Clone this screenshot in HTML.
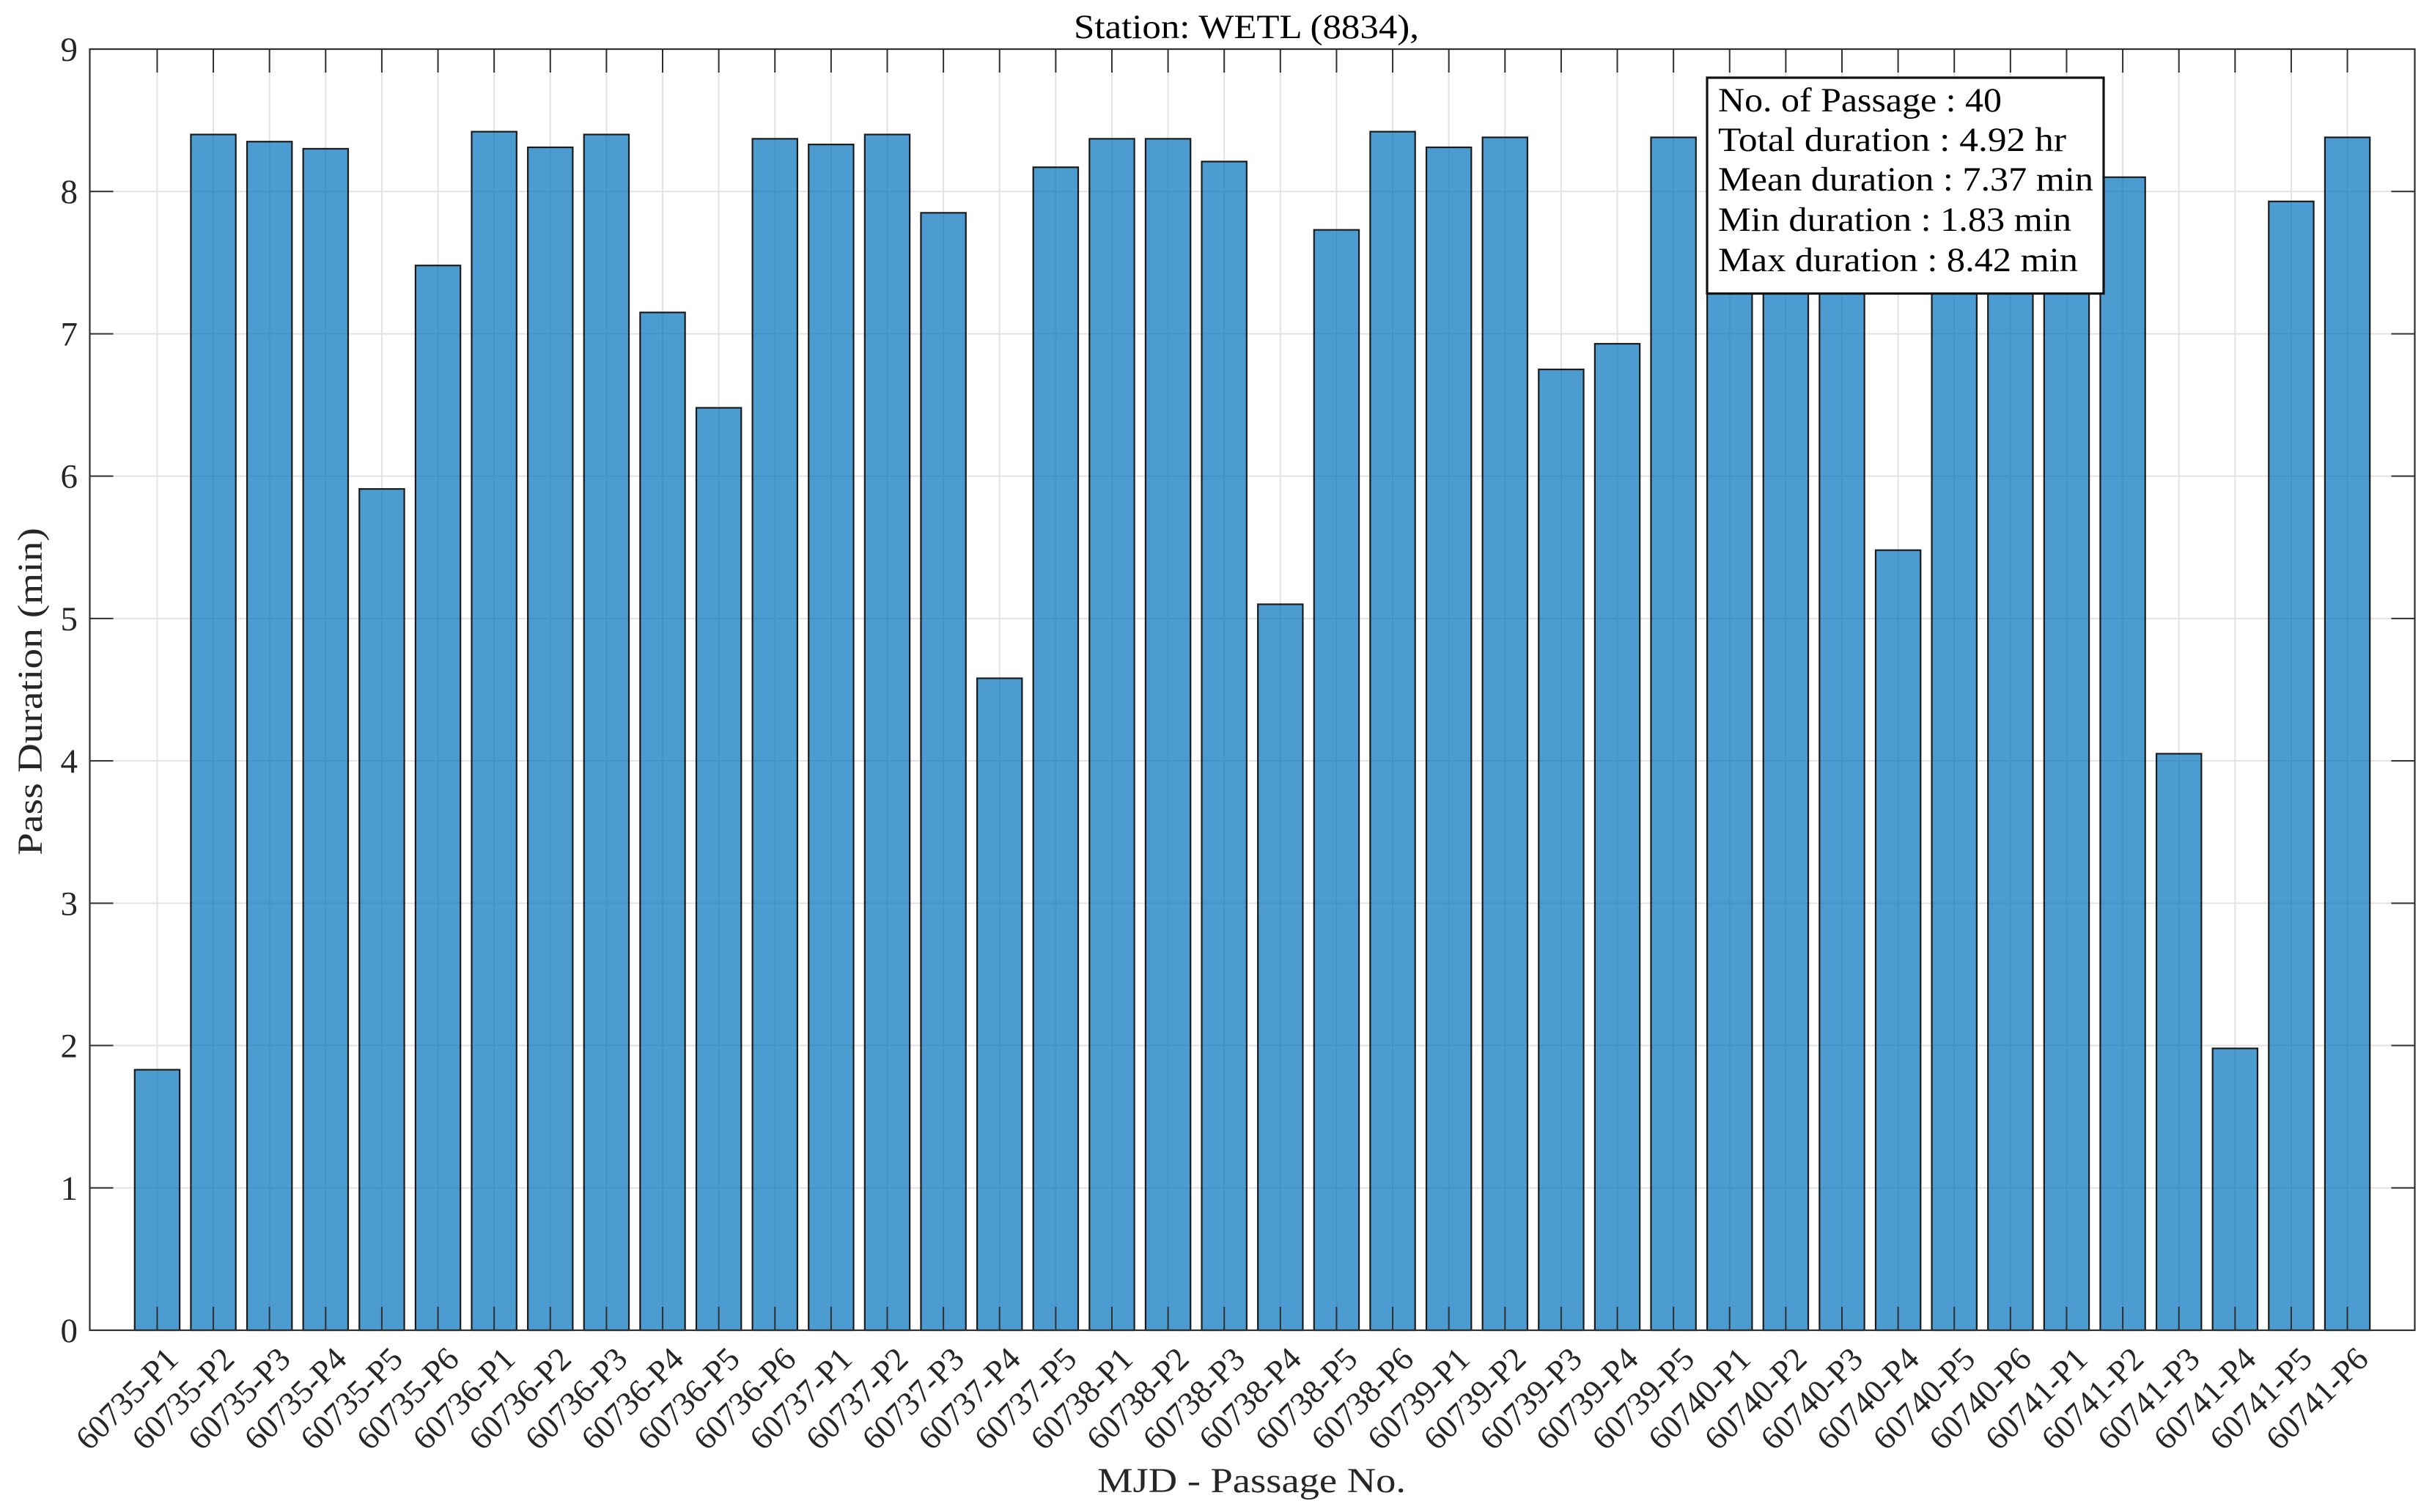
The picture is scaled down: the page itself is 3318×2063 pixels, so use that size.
<!DOCTYPE html>
<html lang="en">
<head>
<meta charset="utf-8">
<title>Station: WETL (8834) pass durations</title>
<style>
html,body{margin:0;padding:0;background:#fff;}
svg{display:block;}
text{font-family:"Liberation Serif",serif;}
</style>
</head>
<body>
<svg id="chart" xmlns="http://www.w3.org/2000/svg" width="3318" height="2063" viewBox="0 0 3318 2063">
  <rect x="0" y="0" width="3318" height="2063" fill="#ffffff"/>
  <g id="grid"></g>
  <g id="bars"></g>
  <g id="ticks"></g>
  <rect x="122.5" y="67" width="3172" height="1748" fill="none" stroke="#303030" stroke-width="2.2"/>
  <g id="ytl"></g>
  <g id="xtl"></g>

  <text x="1465" y="52" font-size="47" fill="#000000" textLength="471" lengthAdjust="spacingAndGlyphs">Station: WETL (8834),</text>
  <text x="1497" y="2036" font-size="48" fill="#262626" textLength="421" lengthAdjust="spacingAndGlyphs">MJD - Passage No.</text>
  <text transform="translate(57 1167) rotate(-90)" x="0" y="0" font-size="48" fill="#262626" textLength="447" lengthAdjust="spacingAndGlyphs">Pass Duration (min)</text>

  <g>
    <rect x="2329" y="106" width="541" height="294.5" fill="#ffffff" stroke="#111111" stroke-width="3.2"/>
    <text x="2344" y="152" font-size="47" fill="#000000" textLength="387" lengthAdjust="spacingAndGlyphs">No. of Passage : 40</text>
    <text x="2344" y="206" font-size="47" fill="#000000" textLength="475" lengthAdjust="spacingAndGlyphs">Total duration : 4.92 hr</text>
    <text x="2344" y="260" font-size="47" fill="#000000" textLength="512" lengthAdjust="spacingAndGlyphs">Mean duration : 7.37 min</text>
    <text x="2344" y="315" font-size="47" fill="#000000" textLength="482" lengthAdjust="spacingAndGlyphs">Min duration : 1.83 min</text>
    <text x="2344" y="370" font-size="47" fill="#000000" textLength="491" lengthAdjust="spacingAndGlyphs">Max duration : 8.42 min</text>
  </g>
</svg>
<script>
const categories = [
  "60735-P1","60735-P2","60735-P3","60735-P4","60735-P5","60735-P6",
  "60736-P1","60736-P2","60736-P3","60736-P4","60736-P5","60736-P6",
  "60737-P1","60737-P2","60737-P3","60737-P4","60737-P5",
  "60738-P1","60738-P2","60738-P3","60738-P4","60738-P5","60738-P6",
  "60739-P1","60739-P2","60739-P3","60739-P4","60739-P5",
  "60740-P1","60740-P2","60740-P3","60740-P4","60740-P5","60740-P6",
  "60741-P1","60741-P2","60741-P3","60741-P4","60741-P5","60741-P6"
];
const durations = [
  1.83,8.40,8.35,8.30,5.91,7.48,
  8.42,8.31,8.40,7.15,6.48,8.37,
  8.33,8.40,7.85,4.58,8.17,
  8.37,8.37,8.21,5.10,7.73,8.42,
  8.31,8.38,6.75,6.93,8.38,
  8.30,8.30,8.30,5.48,8.10,8.20,
  8.20,8.10,4.05,1.98,7.93,8.38
];
const yTickValues = [0,1,2,3,4,5,6,7,8,9];

const NS = "http://www.w3.org/2000/svg";
const plot = {left:122.5, right:3294.5, top:67, bottom:1815};
const xDomain = [-0.2, 41.2];
const yDomain = [0, 9];
const barFraction = 0.8;
const tickLen = 32;

function xScale(v){
  return plot.left + (v - xDomain[0]) / (xDomain[1] - xDomain[0]) * (plot.right - plot.left);
}
function yScale(v){
  return plot.bottom - (v - yDomain[0]) / (yDomain[1] - yDomain[0]) * (plot.bottom - plot.top);
}
function make(tag, attrs, parent){
  const el = document.createElementNS(NS, tag);
  for (const k in attrs) el.setAttribute(k, attrs[k]);
  parent.appendChild(el);
  return el;
}

const gridG = document.getElementById("grid");
const barsG = document.getElementById("bars");
const ticksG = document.getElementById("ticks");
const ytlG = document.getElementById("ytl");
const xtlG = document.getElementById("xtl");

yTickValues.forEach(function(v){
  const y = yScale(v);
  if (v > yDomain[0] && v < yDomain[1]) {
    const g = make("line", {x1:plot.left, x2:plot.right, y1:y, y2:y, stroke:"#e2e2e2", "stroke-width":2}, gridG);
    
    
    const t1 = make("line", {x1:plot.left, x2:plot.left + tickLen, y1:y, y2:y, stroke:"#303030", "stroke-width":2}, ticksG);
    
    
    const t2 = make("line", {x1:plot.right - tickLen, x2:plot.right, y1:y, y2:y, stroke:"#303030", "stroke-width":2}, ticksG);
    
    
  }
  const lab = make("text", {x:106, y:y + 16, "text-anchor":"end", "font-size":47, fill:"#262626"}, ytlG);
  
  
  lab.textContent = String(v);
});

categories.forEach(function(name, i){
  const pos = i + 1;
  const x = xScale(pos);
  const g = make("line", {x1:x, x2:x, y1:plot.top, y2:plot.bottom, stroke:"#e2e2e2", "stroke-width":2}, gridG);
  
  

  const x0 = xScale(pos - barFraction / 2);
  const x1 = xScale(pos + barFraction / 2);
  const yTop = yScale(durations[i]);
  const bar = make("rect", {x:x0, y:yTop, width:x1 - x0, height:yScale(0) - yTop,
    fill:"#0072BD", "fill-opacity":0.7, stroke:"#1c1c1c", "stroke-width":2.2}, barsG);
  
  

  const t1 = make("line", {x1:x, x2:x, y1:plot.top, y2:plot.top + tickLen, stroke:"#303030", "stroke-width":2}, ticksG);
  
  
  const t2 = make("line", {x1:x, x2:x, y1:plot.bottom - tickLen, y2:plot.bottom, stroke:"#303030", "stroke-width":2}, ticksG);
  
  

  const lx = x + 31;
  const ly = plot.bottom + 42;
  const lab = make("text", {x:lx, y:ly, "text-anchor":"end", "font-size":45, fill:"#262626",
    transform:"rotate(-45 " + lx + " " + ly + ")"}, xtlG);
  
  
  lab.textContent = name;
});
</script>
</body>
</html>
